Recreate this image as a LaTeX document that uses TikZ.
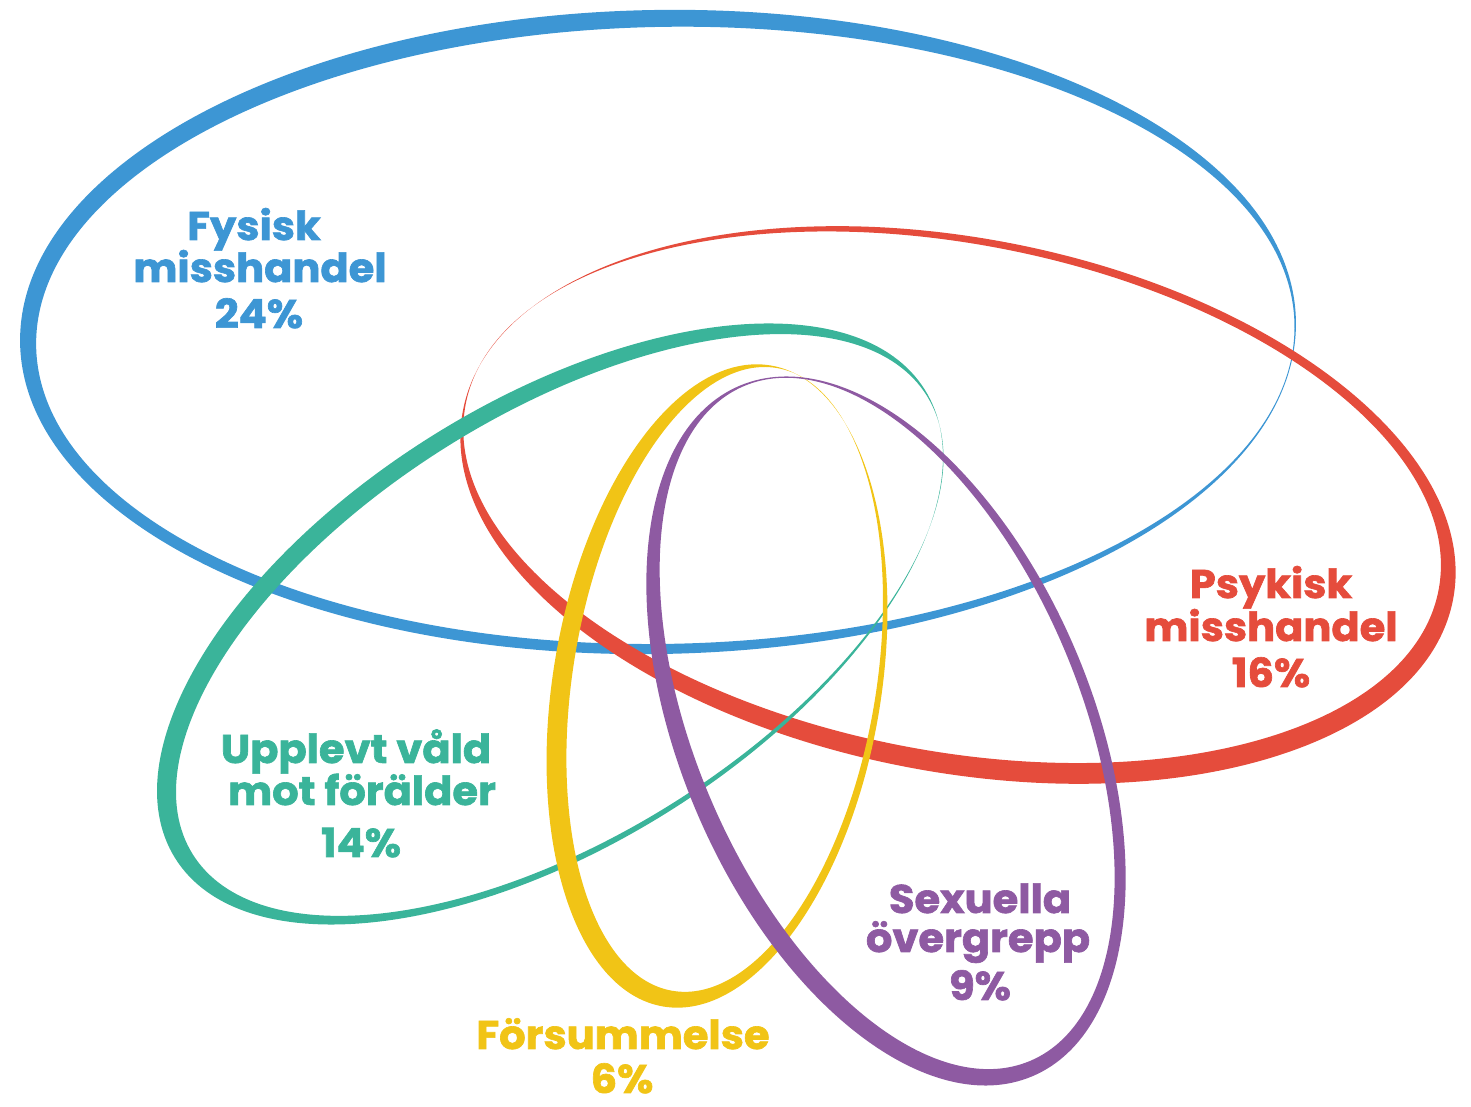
\documentclass[tikz,border=0pt]{standalone}
\usepackage{fontspec}
\setmainfont{Poppins}
\newfontfamily\lblfont{Poppins}[FakeBold=1.6]
\definecolor{cblue}{RGB}{61,150,212}
\definecolor{cred}{RGB}{229,76,60}
\definecolor{cgreen}{RGB}{58,180,154}
\definecolor{cyellow}{RGB}{241,196,22}
\definecolor{cpurple}{RGB}{142,90,162}
% #1 colour, #2 centre, #3 rotation, #4 a, #5 b, #6 ta, #7 tb, #8 dx, #9 dy
\newcommand\ringshape[9]{%
  \begin{scope}[shift={#2}, rotate=#3]
    \fill[#1, even odd rule] (0,0) ellipse [x radius=#4pt, y radius=#5pt]
      (#8,#9) ellipse [x radius={#4pt-#6pt}, y radius={#5pt-#7pt}];
  \end{scope}}
\begin{document}
\begin{tikzpicture}[x=1pt,y=1pt,
  lab/.style={font=\lblfont\fontsize{40}{42}\selectfont\bfseries, inner sep=0pt, anchor=base, xscale=1.04}]
\useasboundingbox (0,0) rectangle (1471,1107);
\ringshape{cblue}{(658,775)}{1}{638}{322}{8.75}{13.5}{7.25}{-3.5}
\ringshape{cred}{(958,602)}{-10.8}{504}{267}{8.75}{13.5}{-7.25}{6.5}
\ringshape{cgreen}{(550,483)}{32}{442}{222}{9.25}{11}{7.75}{-6}
\ringshape{cyellow}{(717,421)}{-9.5}{164}{325}{12.5}{9.25}{6.5}{7.75}
\ringshape{cpurple}{(886,376)}{23}{206}{375}{14}{8.5}{4}{6.5}
% labels
\node[lab, text=cblue] (fys1) at (254,867) {Fysisk};
\node[lab, text=cblue] (fys2) at (260,825) {misshandel};
\node[lab, text=cblue] (fysp) at (259,779) {24\%};
\node[lab, text=cred] (psy1) at (1271,509) {Psykisk};
\node[lab, text=cred] (psy2) at (1271,466) {misshandel};
\node[lab, text=cred] (psyp) at (1271,420) {16\%};
\node[lab, text=cgreen] (upp1) at (356,344) {Upplevt våld};
\node[lab, text=cgreen] (upp2) at (362,302) {mot förälder};
\node[lab, text=cgreen] (uppp) at (361,250) {14\%};
\node[lab, text=cpurple] (sex1) at (980,194) {Sexuella};
\node[lab, text=cpurple] (sex2) at (978,155) {övergrepp};
\node[lab, text=cpurple] (sexp) at (980,107) {9\%};
\node[lab, text=cyellow] (for1) at (623,58) {Försummelse};
\node[lab, text=cyellow] (forp) at (622,14) {6\%};
\end{tikzpicture}
\end{document}
